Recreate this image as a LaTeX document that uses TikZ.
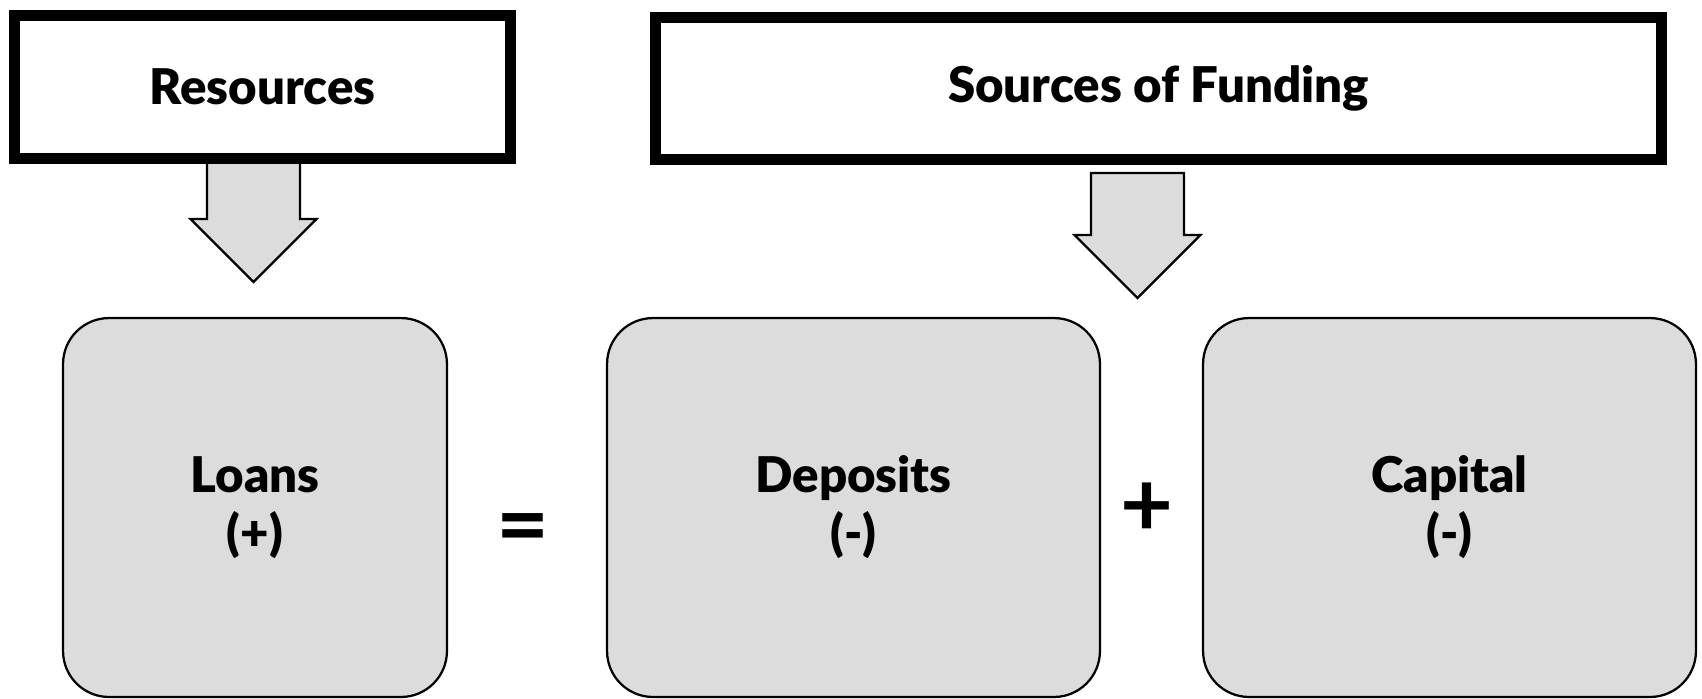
\documentclass[tikz,border=0pt]{standalone}
\usepackage{fontspec}
\setmainfont{Lato}[BoldFont={Lato Black}]
\newfontfamily\signfont{Lato Bold}
\usetikzlibrary{positioning,calc}
\definecolor{BoxGray}{RGB}{220,220,220}

\begin{document}
\begin{tikzpicture}[x=0.02cm,y=-0.02cm,
  header/.style={draw,line width=0.22cm,fill=white,inner sep=0pt,
    minimum height=2.85cm,font=\fontsize{28}{34}\selectfont\bfseries},
  account/.style={draw,line width=0.045cm,fill=BoxGray,rounded corners=0.92cm,
    minimum width=9.86cm,minimum height=7.58cm,align=center,
    font=\fontsize{28}{33}\selectfont\bfseries},
  bigarrow/.style={draw,line width=0.045cm,fill=BoxGray,line join=miter},
  sign/.style={font=\fontsize{52}{52}\signfont,inner sep=0pt}]
\useasboundingbox (0,0) rectangle (1702,698);

% block arrows first, so the header frames sit over their tops
\coordinate (resfoot) at (253.5,157);
\coordinate (fundfoot) at (1137.5,173);
\foreach \c in {resfoot,fundfoot}
  \draw[bigarrow] (\c) ++(-46.5,0) -- ++(0,62) -- ++(-16.5,0) -- ++(63,63)
    -- ++(63,-63) -- ++(-16.5,0) -- ++(0,-62) -- cycle;

\node[header,minimum width=9.94cm] (res) at (262.5,87) {Resources};
\node[header,minimum width=20.14cm] (fund) at (1158.5,88.5) {Sources of Funding};

\node[account,minimum width=7.68cm] (loans) at (255,507.5) {Loans\\(+)};
\node[account] (dep) at (853.5,507.5) {Deposits\\(-)};
\node[account] (cap) at (1449.5,507.5) {Capital\\(-)};

\node[sign] (eq) at (523,535) {=};
\node[sign] (plus) at (1147,510) {+};
\end{tikzpicture}
\end{document}
